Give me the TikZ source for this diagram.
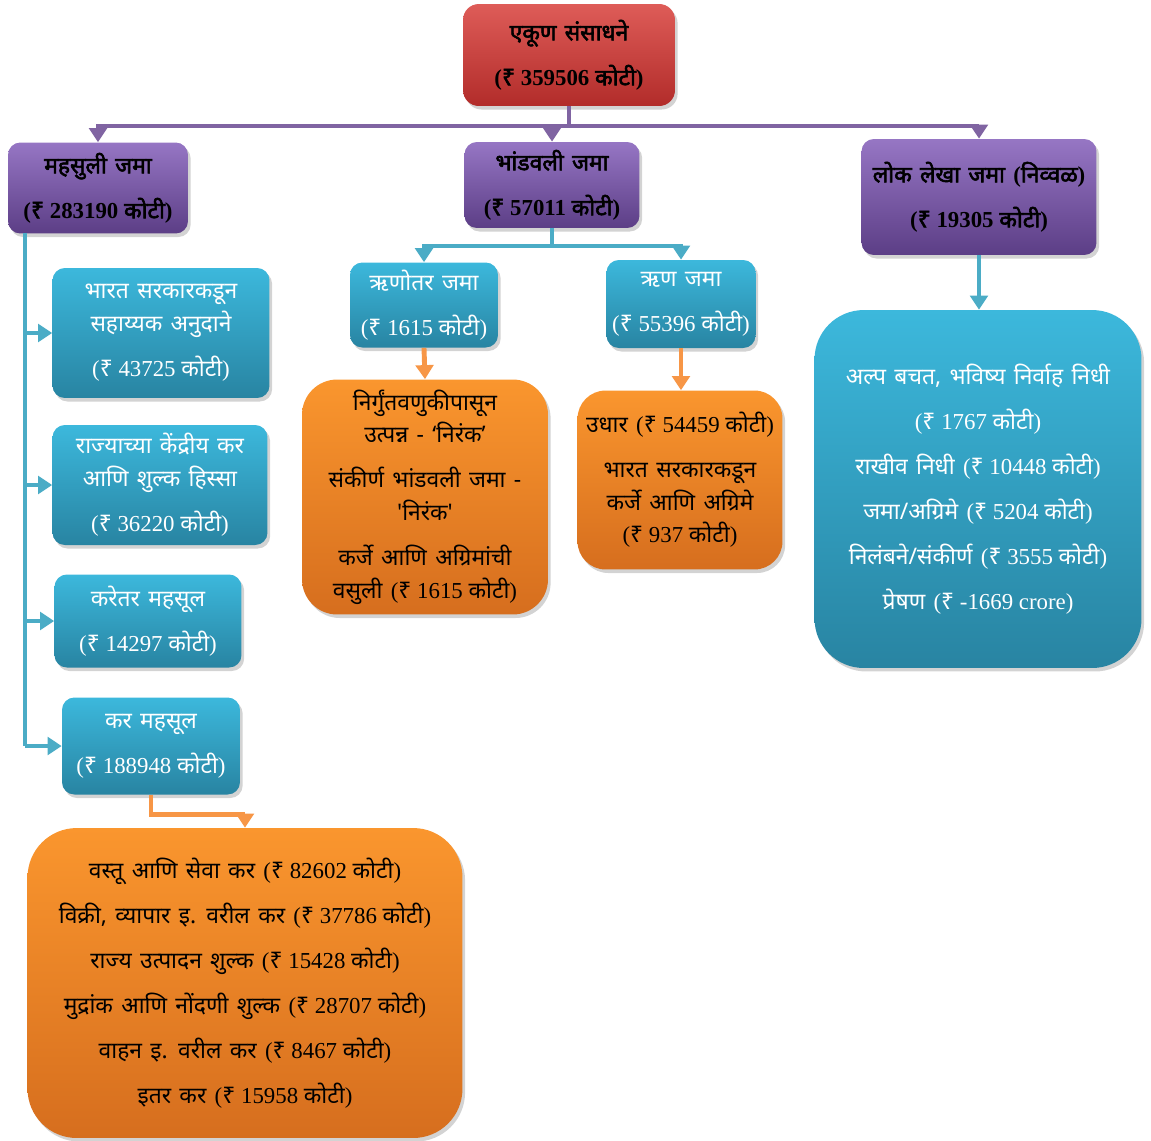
\documentclass[tikz,border=0pt]{standalone}
\usepackage{fontspec}
\setmainfont{Liberation Serif}
\newfontfamily\dev[Script=Devanagari, WordSpace=1.4, BoldFont=Noto Sans, BoldFeatures={FakeBold=2.5}]{Noto Sans}
\usetikzlibrary{
    arrows.meta,
    shadows,
    positioning
}
\definecolor{linkpurple}{RGB}{128,100,162}
\definecolor{linkcyan}{RGB}{75,172,198}
\definecolor{linkorange}{RGB}{247,150,70}
\newcommand{\amt}[2]{{\rmfamily(}₹{\rmfamily\ #1\ }#2{\rmfamily)}}
\tikzset {
    box/.style = {
        draw = none, align = center, inner sep = 2pt,
        rounded corners = 7pt,
        font = \dev\fontsize{13}{25.6}\selectfont,
        drop shadow = {opacity = .35, shadow xshift = 1.5pt, shadow yshift = -2pt}
    },
    redbox/.style = {box, top color = {rgb,255:red,222;green,92;blue,88},
        bottom color = {rgb,255:red,178;green,44;blue,42},
        font = \dev\bfseries\fontsize{13}{25.6}\selectfont},
    purplebox/.style = {box, top color = {rgb,255:red,150;green,118;blue,196},
        bottom color = {rgb,255:red,92;green,62;blue,134},
        font = \dev\bfseries\fontsize{13}{25.6}\selectfont},
    cyanbox/.style = {box, text = white, top color = {rgb,255:red,60;green,184;blue,220},
        bottom color = {rgb,255:red,40;green,132;blue,162}},
    orangebox/.style = {box, top color = {rgb,255:red,250;green,150;blue,46},
        bottom color = {rgb,255:red,214;green,110;blue,30}},
    line/.style = {line width = 2.8pt},
    tip/.style = {-{Triangle[width = 10pt, length = 8pt]}},
    pline/.style = {line, draw = linkpurple},
    cline/.style = {line, draw = linkcyan},
    oline/.style = {line, draw = linkorange},
}

\begin{document}
\begin{tikzpicture}[x = 0.02cm, y = -0.02cm]
    \useasboundingbox (0, 0) rectangle (1151, 1140);
    % top level
    \node (total) [redbox, minimum width = 4.24cm, minimum height = 2.04cm, rounded corners = 9pt]
        at (569, 55) {एकूण संसाधने\\\amt{359506}{कोटी}};
    \node (revenue) [purplebox, minimum width = 3.6cm, minimum height = 1.82cm]
        at (98, 188) {महसुली जमा\\\amt{283190}{कोटी}};
    \node (capital) [purplebox, minimum width = 3.5cm, minimum height = 1.72cm]
        at (552, 185) {भांडवली जमा\\\amt{57011}{कोटी}};
    \node (public) [purplebox, minimum width = 4.7cm, minimum height = 2.32cm]
        at (979, 197) {लोक लेखा जमा {\rmfamily(}निव्वळ{\rmfamily)}\\\amt{19305}{कोटी}};
    % revenue receipts
    \node (grant) [cyanbox, minimum width = 4.34cm, minimum height = 2.6cm]
        at (161, 333) {भारत सरकारकडून\\[-7pt]सहाय्यक अनुदाने\\\amt{43725}{कोटी}};
    \node (share) [cyanbox, minimum width = 4.3cm, minimum height = 2.4cm]
        at (160, 485) {राज्याच्या केंद्रीय कर\\[-7pt]आणि शुल्क हिस्सा\\\amt{36220}{कोटी}};
    \node (nontax) [cyanbox, minimum width = 3.74cm, minimum height = 1.86cm]
        at (148, 621) {करेतर महसूल\\\amt{14297}{कोटी}};
    \node (tax) [cyanbox, minimum width = 3.56cm, minimum height = 1.94cm]
        at (151, 746) {कर महसूल\\\amt{188948}{कोटी}};
    \node (taxdetail) [orangebox, minimum width = 8.7cm, minimum height = 6.2cm, rounded corners = 28pt]
        at (245, 983) {वस्तू आणि सेवा कर \amt{82602}{कोटी}\\
            विक्री, व्यापार इ. वरील कर \amt{37786}{कोटी}\\
            राज्य उत्पादन शुल्क \amt{15428}{कोटी}\\
            मुद्रांक आणि नोंदणी शुल्क \amt{28707}{कोटी}\\
            वाहन इ. वरील कर \amt{8467}{कोटी}\\
            इतर कर \amt{15958}{कोटी}};
    % capital receipts
    \node (nondebt) [cyanbox, minimum width = 2.96cm, minimum height = 1.7cm]
        at (424, 305) {ऋणोतर जमा\\\amt{1615}{कोटी}};
    \node (debt) [cyanbox, minimum width = 2.98cm, minimum height = 1.76cm]
        at (681, 304) {ऋण जमा\\\amt{55396}{कोटी}};
    \node (nondebtdetail) [orangebox, minimum width = 4.92cm, minimum height = 4.7cm, rounded corners = 20pt]
        at (425, 497) {निर्गुंतवणुकीपासून\\[-7pt]उत्पन्न - ‘निरंक’\\
            संकीर्ण भांडवली जमा -\\[-7pt]'निरंक'\\
            कर्जे आणि अग्रिमांची\\[-7pt]वसुली \amt{1615}{कोटी}};
    \node (debtdetail) [orangebox, minimum width = 4.1cm, minimum height = 3.58cm, rounded corners = 16pt]
        at (680, 480) {उधार \amt{54459}{कोटी}\\
            भारत सरकारकडून\\[-7pt]कर्जे आणि अग्रिमे\\[-7pt]\amt{937}{कोटी}};
    % public account
    \node (publicdetail) [cyanbox, minimum width = 6.54cm, minimum height = 7.16cm, rounded corners = 28pt]
        at (978, 489) {अल्प बचत, भविष्य निर्वाह निधी\\
            \amt{1767}{कोटी}\\
            राखीव निधी \amt{10448}{कोटी}\\
            जमा/अग्रिमे \amt{5204}{कोटी}\\
            निलंबने/संकीर्ण \amt{3555}{कोटी}\\
            प्रेषण \amt{-1669}{{\rmfamily crore}}};

    % connectors
    \coordinate (pbus) at (569, 126);
    \draw [pline] (total.south) -- (pbus);
    \draw [pline, tip] (pbus) -| (revenue.north);
    \draw [pline, tip] (pbus) -| (capital.north);
    \draw [pline, tip] (pbus) -| (public.north);

    \coordinate (cbus) at (552, 246);
    \draw [cline] (capital.south) -- (cbus);
    \draw [cline, tip] (cbus) -| (nondebt.north);
    \draw [cline, tip] (cbus) -| (debt.north);
    \draw [cline, tip] (public.south) -- (public.south |- publicdetail.north);

    \coordinate (trunk) at (25, 233);
    \draw [cline] (trunk) -- (trunk |- tax.west);
    \foreach \n in {grant, share, nontax, tax}
        \draw [cline, tip] (trunk |- \n.west) -- (\n.west);

    \draw [oline, tip] (nondebt.south) -- (nondebtdetail.north);
    \draw [oline, tip] (debt.south) -- (debt.south |- debtdetail.north);
    \draw [oline, tip] (tax.south) -- ++(0, 20) -| (taxdetail.north);
\end{tikzpicture}
\end{document}
